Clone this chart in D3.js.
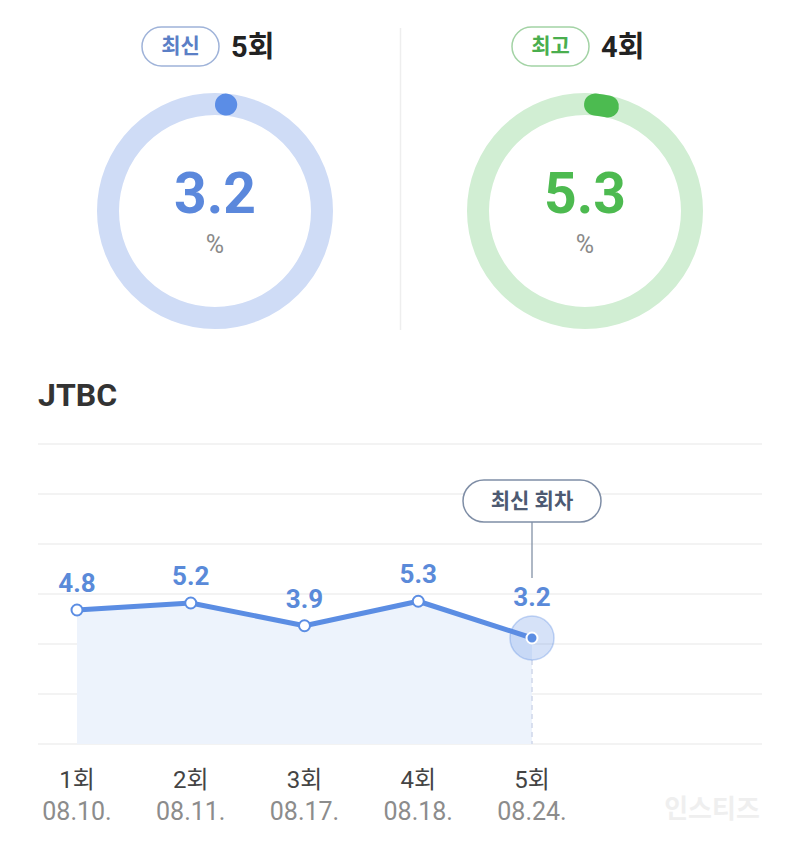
<!DOCTYPE html>
<html>
<head>
<meta charset="utf-8">
<script src="https://cdn.jsdelivr.net/npm/d3@7/dist/d3.min.js"></script>
<style>
  html, body { margin: 0; padding: 0; background: #ffffff; }
  svg { display: block; }
  text { font-family: Roboto, "Noto Sans CJK KR", sans-serif; }
</style>
</head>
<body>
<svg id="chart" width="800" height="850"></svg>
<script>
// ---- data ----
const gaugeLabels = ["최신", "최고"];
const gaugeEpisodes = ["5회", "4회"];
const gaugeValues = [3.2, 5.3];
const gaugeArcStartDeg = [5.9, 5.4];
const gaugeArcEndDeg = [6.0, 12.4];

const channel = "JTBC";
const episodes = ["1회", "2회", "3회", "4회", "5회"];
const dates = ["08.10.", "08.11.", "08.17.", "08.18.", "08.24."];
const ratings = [4.8, 5.2, 3.9, 5.3, 3.2];
const latestLabel = "최신 회차";
const watermark = "인스티즈";

// ---- styles ----
const themes = [
  { ring: "#cfdcf6", arc: "#5b8de6", value: "#5b88dc", pillStroke: "#9fb3d9", pillText: "#5b7fc6" },
  { ring: "#d1eed3", arc: "#4cbb50", value: "#4dba50", pillStroke: "#a3d3a5", pillText: "#4aae4e" }
];

const svg = d3.select("#chart");

// ---- gauges ----
const gaugeX = d3.scalePoint().domain(d3.range(gaugeValues.length)).range([215, 585]);
const gaugeCy = 211, gaugeR = 107, gaugeW = 22;

gaugeValues.forEach((v, i) => {
  const cx = gaugeX(i), t = themes[i];
  const g = svg.append("g");
  g.append("circle").attr("cx", cx).attr("cy", gaugeCy).attr("r", gaugeR)
    .attr("fill", "none").attr("stroke", t.ring).attr("stroke-width", gaugeW);
  const p = d3.path();
  const a0 = (gaugeArcStartDeg[i] - 90) * Math.PI / 180;
  const a1 = (gaugeArcEndDeg[i] - 90) * Math.PI / 180;
  p.moveTo(cx + gaugeR * Math.cos(a0), gaugeCy + gaugeR * Math.sin(a0));
  p.arc(cx, gaugeCy, gaugeR, a0, a1, false);
  g.append("path").attr("d", p.toString()).attr("fill", "none")
    .attr("stroke", t.arc).attr("stroke-width", gaugeW).attr("stroke-linecap", "round");
  g.append("text").attr("x", cx).attr("y", 213).attr("text-anchor", "middle")
    .attr("font-size", 57).attr("font-weight", 700).attr("fill", t.value).text(v.toFixed(1));
  g.append("text").attr("x", cx).attr("y", 253).attr("text-anchor", "middle")
    .attr("font-size", 25).attr("fill", "#8a8a8a").text("%");

  // header pill + episode
  const pillX = cx - 73, pillW = 77;
  g.append("rect").attr("x", pillX).attr("y", 27).attr("width", pillW).attr("height", 39)
    .attr("rx", 19.5).attr("fill", "#fff").attr("stroke", t.pillStroke).attr("stroke-width", 1.5);
  g.append("text").attr("x", pillX + pillW / 2).attr("y", 46).attr("dy", "0.35em")
    .attr("text-anchor", "middle").attr("font-size", 21).attr("font-weight", 700)
    .attr("fill", t.pillText).text(gaugeLabels[i]);
  g.append("text").attr("x", cx + 16).attr("y", 47).attr("dy", "0.36em")
    .attr("font-size", 29).attr("font-weight", 700).attr("fill", "#222").text(gaugeEpisodes[i]);
});

// divider
svg.append("line").attr("x1", 400.5).attr("x2", 400.5).attr("y1", 28).attr("y2", 330)
  .attr("stroke", "#eeeeee").attr("stroke-width", 1.5);

// ---- title ----
svg.append("text").attr("x", 38).attr("y", 406).attr("font-size", 32).attr("font-weight", 700)
  .attr("fill", "#333").text(channel);

// ---- line chart ----
const x = d3.scalePoint().domain(episodes).range([77, 532]);
const yMin = -50 / 17.5, yMax = 250 / 17.5;
const y = d3.scaleLinear().domain([yMin, yMax]).range([744, 444]);
const gridVals = d3.range(7).map(k => yMin + k * (yMax - yMin) / 6);

svg.append("g").selectAll("line").data(gridVals).join("line")
  .attr("x1", 38).attr("x2", 762).attr("y1", d => y(d)).attr("y2", d => y(d))
  .attr("stroke", "#efefef").attr("stroke-width", 1.5);

const pts = episodes.map((e, i) => ({ e, v: ratings[i], d: dates[i] }));

const area = d3.area().x(d => x(d.e)).y0(y(yMin)).y1(d => y(d.v));
svg.append("path").datum(pts).attr("d", area).attr("fill", "#edf3fc");

const last = pts[pts.length - 1];
// dashed drop line
svg.append("line").attr("x1", x(last.e)).attr("x2", x(last.e))
  .attr("y1", y(last.v) + 22).attr("y2", y(yMin))
  .attr("stroke", "#cfd8ea").attr("stroke-width", 1.5).attr("stroke-dasharray", "5,4");

const line = d3.line().x(d => x(d.e)).y(d => y(d.v));
svg.append("path").datum(pts).attr("d", line).attr("fill", "none")
  .attr("stroke", "#5b8de3").attr("stroke-width", 5).attr("stroke-linejoin", "round");

// normal points
svg.append("g").selectAll("circle").data(pts.slice(0, -1)).join("circle")
  .attr("cx", d => x(d.e)).attr("cy", d => y(d.v)).attr("r", 5.5)
  .attr("fill", "#fff").attr("stroke", "#5b8de3").attr("stroke-width", 2);

// latest point halo
svg.append("circle").attr("cx", x(last.e)).attr("cy", y(last.v)).attr("r", 22)
  .attr("fill", "rgba(91,141,227,0.25)").attr("stroke", "rgba(91,141,227,0.35)").attr("stroke-width", 1.5);
svg.append("circle").attr("cx", x(last.e)).attr("cy", y(last.v)).attr("r", 5.5)
  .attr("fill", "#5b8de3").attr("stroke", "#fff").attr("stroke-width", 2);

// value labels
svg.append("g").selectAll("text").data(pts).join("text")
  .attr("x", d => x(d.e)).attr("y", (d, i) => y(d.v) - (i === pts.length - 1 ? 32 : 18))
  .attr("text-anchor", "middle").attr("font-size", 26).attr("font-weight", 700)
  .attr("fill", "#5a8ad9").text(d => d.v.toFixed(1));

// callout
const cX = x(last.e);
svg.append("line").attr("x1", cX).attr("x2", cX).attr("y1", 522).attr("y2", 578)
  .attr("stroke", "#8391a6").attr("stroke-width", 1.3);
svg.append("rect").attr("x", cX - 69).attr("y", 480).attr("width", 138).attr("height", 42)
  .attr("rx", 21).attr("fill", "#fff").attr("stroke", "#7f8ea6").attr("stroke-width", 1.5);
svg.append("text").attr("x", cX).attr("y", 501).attr("dy", "0.35em").attr("text-anchor", "middle")
  .attr("font-size", 21).attr("font-weight", 700).attr("fill", "#4d5a72").text(latestLabel);

// x labels
svg.append("g").selectAll("text").data(pts).join("text")
  .attr("x", d => x(d.e)).attr("y", 788).attr("text-anchor", "middle")
  .attr("font-size", 24).attr("fill", "#444").text(d => d.e);
svg.append("g").selectAll("text").data(pts).join("text")
  .attr("x", d => x(d.e)).attr("y", 820).attr("text-anchor", "middle")
  .attr("font-size", 25).attr("fill", "#8c8c8c").text(d => d.d);

// watermark
svg.append("text").attr("x", 712).attr("y", 818).attr("text-anchor", "middle")
  .attr("font-size", 26).attr("font-weight", 700).attr("fill", "#efefef").text(watermark);
</script>
</body>
</html>
